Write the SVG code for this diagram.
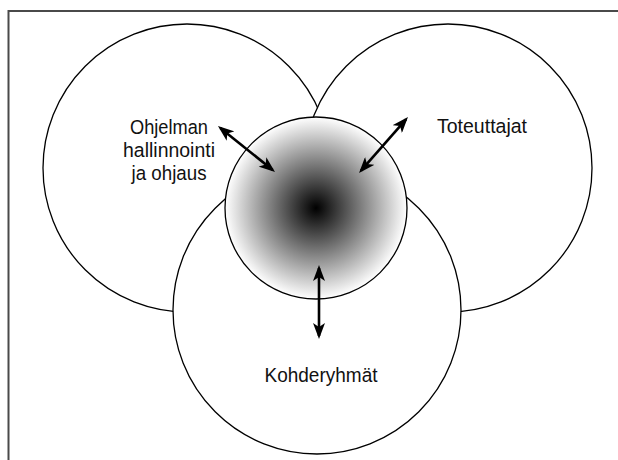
<svg xmlns="http://www.w3.org/2000/svg" width="618" height="460" viewBox="0 0 618 460">
<style>
.c{fill:#fff;stroke:#000;stroke-width:1.3}
.t{font-family:"Liberation Sans",Arial,sans-serif;font-size:20.5px;fill:#111;text-anchor:middle}
.a{stroke:#000;stroke-width:2.6;fill:none;marker-start:url(#h);marker-end:url(#h)}
.b{stroke:#4a4a4a;stroke-width:2;fill:none}
</style>
<defs>
<radialGradient id="g" cx="50%" cy="50%" r="50%">
<stop offset="0" stop-color="#000"/>
<stop offset="1" stop-color="#fff"/>
</radialGradient>
<marker id="h" viewBox="0 0 16 12" refX="13" refY="6" markerWidth="16" markerHeight="12" markerUnits="userSpaceOnUse" orient="auto-start-reverse">
<path d="M0,0 L16,6 L0,12 L4,6 Z" fill="#000"/>
</marker>
</defs>
<path class="b" d="M8.5,460 V11 H618"/>
<g id="hallinto"><circle class="c" cx="187" cy="168" r="144"/></g>
<g id="toteuttajat"><circle class="c" cx="448" cy="168" r="144"/></g>
<g id="kohderyhmat"><circle class="c" cx="317" cy="310" r="144"/></g>
<g id="keskus"><circle cx="316" cy="208" r="91" fill="url(#g)" stroke="#000" stroke-width="1.3"/></g>
<g id="connectors">
<line class="a" x1="220.3" y1="127.9" x2="272.7" y2="170.1"/>
<line class="a" x1="406" y1="119.3" x2="361" y2="170.7"/>
<line class="a" x1="319" y1="268" x2="319" y2="336"/>
</g>
<g id="labels">
<text class="t" x="169" y="134" textLength="78" lengthAdjust="spacingAndGlyphs">Ohjelman</text>
<text class="t" x="169" y="157" textLength="92" lengthAdjust="spacingAndGlyphs">hallinnointi</text>
<text class="t" x="169" y="180" textLength="75" lengthAdjust="spacingAndGlyphs">ja ohjaus</text>
<text class="t" x="482" y="133" textLength="90" lengthAdjust="spacingAndGlyphs">Toteuttajat</text>
<text class="t" x="321" y="382" textLength="113" lengthAdjust="spacingAndGlyphs">Kohderyhmät</text>
</g>
</svg>
